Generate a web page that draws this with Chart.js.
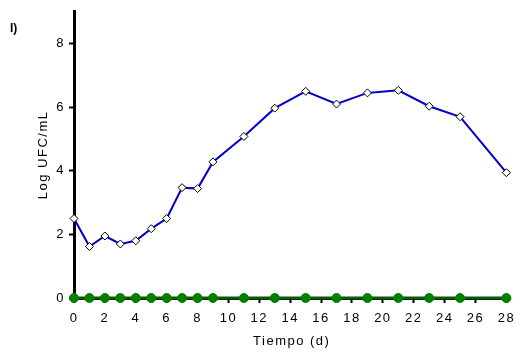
<!DOCTYPE html>
<html>
<head>
<meta charset="utf-8">
<script src="https://cdn.jsdelivr.net/npm/chart.js@4.4.1/dist/chart.umd.min.js"></script>
<style>
  html, body { margin: 0; padding: 0; background: #fff; }
  #wrap { width: 515px; height: 356px; position: relative; }
</style>
</head>
<body>
<div id="wrap"><canvas id="chart"></canvas></div>
<script>
// ===== Datos =====
const days = [0, 1, 2, 3, 4, 5, 6, 7, 8, 9, 11, 13, 15, 17, 19, 21, 23, 25, 28];
const logUfcA = [2.5, 1.62, 1.95, 1.7, 1.8, 2.18, 2.5, 3.47, 3.44, 4.28, 5.08, 5.97, 6.5, 6.1, 6.45, 6.53, 6.03, 5.7, 3.94];
const logUfcB = [0, 0, 0, 0, 0, 0, 0, 0, 0, 0, 0, 0, 0, 0, 0, 0, 0, 0, 0];
const xTicks = [0, 2, 4, 6, 8, 10, 12, 14, 16, 18, 20, 22, 24, 26, 28];
const yTicks = [0, 2, 4, 6, 8];
const xTitle = "Tiempo (d)";
const yTitle = "Log UFC/mL";

const FONT = "Arial, 'Liberation Sans', sans-serif";

// letra "I)", títulos de ejes y espaciado de letras
const panelLabel = {
  id: "panelLabel",
  beforeDraw(chart) {
    chart.ctx.letterSpacing = "1.5px";
  },
  afterDraw(chart) {
    const ctx = chart.ctx;
    const area = chart.chartArea;
    ctx.save();
    ctx.fillStyle = "#000";
    ctx.textAlign = "center";
    ctx.textBaseline = "middle";
    ctx.font = "13px " + FONT;
    ctx.letterSpacing = "1.5px";
    ctx.fillText(xTitle, (area.left + area.right) / 2, 341);
    ctx.save();
    ctx.translate(43, (area.top + area.bottom) / 2);
    ctx.rotate(-Math.PI / 2);
    ctx.fillText(yTitle, 0, 0);
    ctx.restore();
    ctx.letterSpacing = "0px";
    ctx.font = "bold 12px " + FONT;
    ctx.textAlign = "left";
    ctx.fillText("I)", 10, 29);
    ctx.restore();
  }
};

const toPts = (ys) => days.map((d, i) => ({ x: d, y: ys[i] }));

new Chart(document.getElementById("chart"), {
  type: "line",
  data: {
    datasets: [
      {
        data: toPts(logUfcB),
        borderColor: "#0b5a0b",
        borderWidth: 3,
        pointStyle: "circle",
        pointRadius: 4.5,
        pointBackgroundColor: "#008000",
        pointBorderColor: "#008000",
        pointBorderWidth: 1,
        clip: false,
        order: 2
      },
      {
        data: toPts(logUfcA),
        borderColor: "#0000cc",
        borderWidth: 2,
        pointStyle: "rectRot",
        pointRadius: 4,
        pointBackgroundColor: "#ffffff",
        pointBorderColor: "#000000",
        pointBorderWidth: 1,
        clip: false,
        order: 1
      }
    ]
  },
  options: {
    responsive: true,
    maintainAspectRatio: false,
    animation: false,
    layout: { padding: { left: 0, right: 5, top: 9, bottom: 0 } },
    plugins: { legend: { display: false }, tooltip: { enabled: false } },
    scales: {
      x: {
        type: "linear",
        min: 0,
        max: 28.2,
        afterBuildTicks: (s) => { s.ticks = xTicks.map((v) => ({ value: v })); },
        afterFit: (s) => { s.height = 58; s.paddingRight = 0; s.paddingLeft = 0; },
        border: { display: true, color: "#000", width: 3 },
        grid: { display: true, drawOnChartArea: false, drawTicks: true, tickLength: 5, tickWidth: 2, tickColor: "#000" },
        ticks: { color: "#000", font: { family: FONT, size: 13 }, padding: 8, maxRotation: 0 }
      },
      y: {
        min: 0,
        max: 9,
        afterBuildTicks: (s) => { s.ticks = yTicks.map((v) => ({ value: v })); },
        afterFit: (s) => { s.width = 74; },
        border: { display: true, color: "#000", width: 3 },
        grid: { display: true, drawOnChartArea: false, drawTicks: true, tickLength: 5, tickWidth: 2, tickColor: "#000" },
        ticks: { color: "#000", font: { family: FONT, size: 13 }, padding: 4 }
      }
    }
  },
  plugins: [panelLabel]
});
</script>
</body>
</html>
